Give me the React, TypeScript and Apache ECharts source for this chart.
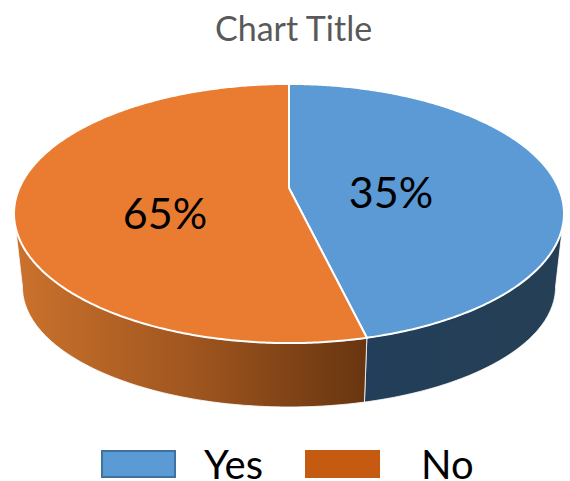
import React, { useEffect, useRef } from "react";
import * as echarts from "echarts";

const categories = ["Yes", "No"];
// Sweep of each slice as drawn in the picture (percent of the circle)
const sliceShares = [46.25, 53.75];
// The labels printed on the slices
const sliceLabels = ["35%", "65%"];
const topColors = ["#5b9ad5", "#ea7c31"];
const legendColors = ["#5b9bd5", "#c55a11"];
const legendBorders = ["#41719c", "#c55a11"];
const legendTextGaps = [24, 37];
const sideStops = [
  ["#223e5a", "#243f57", "#253f56"],
  ["#cb722d", "#a0561f", "#683510"],
];
const labelCenters = [
  [391, 191],
  [165, 212],
];

const CX = 289;
const C = -0.197;
const TOP = { k: 269.6, a: 87.5, b: 188 };
const BOTTOM = { k: 261.3, a: 63.5, b: 263.3 };
const EDGE_LEFT = (258.6 * Math.PI) / 180;
const EDGE_RIGHT = (101.4 * Math.PI) / 180;

function rim(r: { k: number; a: number; b: number }, t: number): number[] {
  const X = Math.sin(t);
  const u = -Math.cos(t);
  const w = 1 + C * u;
  return [CX + (r.k * X) / w, (r.a * u + r.b) / w];
}

function arc(r: any, t0: number, t1: number): number[][] {
  const n = Math.max(2, Math.ceil(Math.abs(t1 - t0) / 0.01));
  const pts: number[][] = [];
  for (let i = 0; i <= n; i++) pts.push(rim(r, t0 + ((t1 - t0) * i) / n));
  return pts;
}

function renderSlice(index: number) {
  return (_params: any, api: any) => {
    const start = (api.value(0) / 100) * Math.PI * 2;
    const end = start + (api.value(1) / 100) * Math.PI * 2;
    const children: any[] = [];
    const s0 = Math.max(start, EDGE_RIGHT);
    const s1 = Math.min(end, EDGE_LEFT);
    if (s1 > s0) {
      const shape = [...arc(TOP, s0, s1), ...arc(BOTTOM, s1, s0)];
      const stops = sideStops[index];
      children.push({
        type: "polygon",
        shape: { points: shape },
        style: {
          fill: new echarts.graphic.LinearGradient(
            0,
            0,
            1,
            0,
            stops.map((color, i) => ({ offset: i / (stops.length - 1), color }))
          ),
          stroke: "#ffffff",
          lineWidth: 0.8,
          lineJoin: "round",
        },
      });
    }
    children.push({
      type: "polygon",
      shape: { points: [[CX, TOP.b], ...arc(TOP, start, end)] },
      style: { fill: topColors[index], stroke: "#ffffff", lineWidth: 2, lineJoin: "round" },
    });
    children.push({
      type: "text",
      style: {
        x: labelCenters[index][0],
        y: labelCenters[index][1],
        text: sliceLabels[index],
        fill: "#000000",
        font: '43px Lato, "Open Sans", sans-serif',
        align: "center",
        verticalAlign: "middle",
      },
    });
    return { type: "group", children };
  };
}

export default function App() {
  const ref = useRef<HTMLDivElement>(null);
  useEffect(() => {
    const chart = echarts.init(ref.current!, null, { renderer: "svg" });
    let cumulative = 0;
    const series = categories.map((name, i) => {
      const startAt = cumulative;
      cumulative += sliceShares[i];
      return {
        type: "custom",
        name,
        coordinateSystem: "none",
        silent: true,
        renderItem: renderSlice(i),
        itemStyle: { color: legendColors[i], borderColor: legendBorders[i], borderWidth: 2 },
        data: [[startAt, sliceShares[i]]],
      };
    });
    chart.setOption({
      animation: false,
      backgroundColor: "#ffffff",
      title: {
        text: "Chart Title",
        left: 210,
        top: 5,
        textStyle: {
          color: "#595959",
          fontFamily: "Lato, sans-serif",
          fontWeight: "normal",
          fontSize: 34,
        },
      },
      legend: {
        data: categories.map((name, i) => ({
          name,
          textStyle: {
            color: "#000000",
            fontFamily: "Lato, sans-serif",
            fontSize: 40,
            lineHeight: 34,
            padding: [0, 0, 8, legendTextGaps[i]],
          },
        })),
        left: 101,
        top: 443,
        padding: 0,
        itemWidth: 73,
        itemHeight: 26,
        itemGap: 42,
        icon: "rect",
        selectedMode: false,
      },
      series,
    } as any);
    return () => chart.dispose();
  }, []);
  return (
    <div
      ref={ref}
      style={{ position: "absolute", left: 0, top: 0, width: 570, height: 481 }}
    />
  );
}
